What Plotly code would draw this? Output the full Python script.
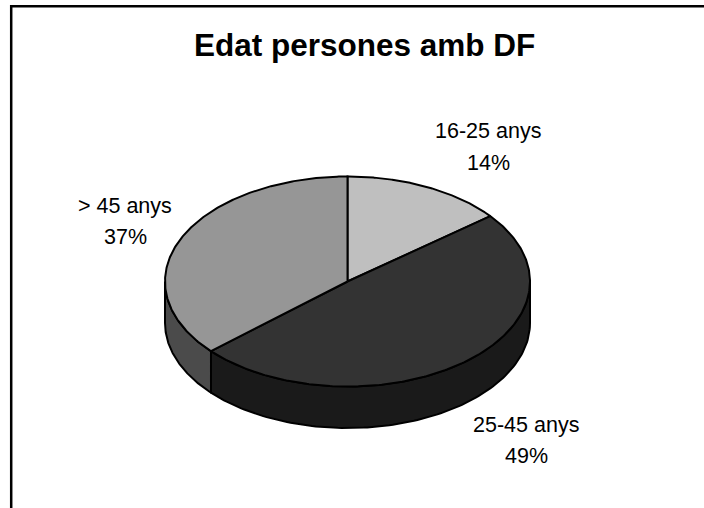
import numpy as np
import plotly.graph_objects as go

categories = ["16-25 anys", "25-45 anys", "> 45 anys"]
values = [14.3, 49.15, 36.55]
top_colors = ["#bfbfbf", "#333333", "#969696"]
side_colors = ["#606060", "#1a1a1a", "#4b4b4b"]
title_text = "Edat persones amb DF"

W, H = 704, 508
CX, CY, RX, RY, DEPTH = 347.5, 281.5, 182.5, 105, 41.5
LINE = dict(color="#000000", width=2)
FONT = "Liberation Sans"


def pt(theta, dy=0.0):
    return CX + RX * np.sin(theta), CY - RY * np.cos(theta) + dy


fig = go.Figure()
fracs = np.array(values) / sum(values)
edges = np.concatenate([[0], np.cumsum(fracs)]) * 2 * np.pi

# side walls (only the front half, theta between 90 and 270 degrees)
for i in range(len(values)):
    a = max(edges[i], np.pi / 2)
    b = min(edges[i + 1], 3 * np.pi / 2)
    if b <= a:
        continue
    t = np.linspace(a, b, 120)
    x1, y1 = pt(t)
    x2, y2 = pt(t[::-1], DEPTH)
    fig.add_trace(go.Scatter(x=np.r_[x1, x2, x1[0]], y=np.r_[y1, y2, y1[0]], mode="lines",
                             fill="toself", fillcolor=side_colors[i], line=LINE, hoverinfo="skip"))

# top faces
for i in range(len(values)):
    t = np.linspace(edges[i], edges[i + 1], 240)
    x, y = pt(t)
    fig.add_trace(go.Scatter(x=np.r_[CX, x, CX], y=np.r_[CY, y, CY], mode="lines",
                             fill="toself", fillcolor=top_colors[i], line=LINE,
                             name=categories[i], hoverinfo="name"))

# label centres in page pixels: x, baseline of the first line, baseline of the second line
label_pos = [(488, 138, 170), (526, 432, 463), (125, 213, 244)]
annotations = []
for c, v, (lx, b1, b2) in zip(categories, values, label_pos):
    for txt, b in ((c, b1), (f"{round(v)}%", b2)):
        annotations.append(dict(x=lx, y=b - 7, xref="x", yref="y", showarrow=False,
                                text=txt, font=dict(family=FONT, size=21.5, color="#000000")))
annotations.append(dict(x=364.5, y=45, xref="x", yref="y", showarrow=False, text=f"<b>{title_text}</b>",
                        font=dict(family=FONT, size=31.5, color="#000000")))

fig.update_layout(
    width=W, height=H, margin=dict(l=0, r=0, t=0, b=0), showlegend=False,
    paper_bgcolor="#ffffff", plot_bgcolor="#ffffff",
    xaxis=dict(range=[0, W], visible=False, fixedrange=True),
    yaxis=dict(range=[H, 0], visible=False, fixedrange=True),
    annotations=annotations,
    shapes=[dict(type="line", x0=11.2, x1=11.2, y0=5, y1=H, xref="x", yref="y", line=dict(color="#000", width=2.5)),
            dict(type="line", x0=10, x1=W, y0=6.2, y1=6.2, xref="x", yref="y", line=dict(color="#000", width=2.5))],
)
fig.write_html("out.html", config={"displayModeBar": False},
               post_script="document.documentElement.style.margin='0';document.body.style.margin='0';document.body.style.overflow='hidden';")
